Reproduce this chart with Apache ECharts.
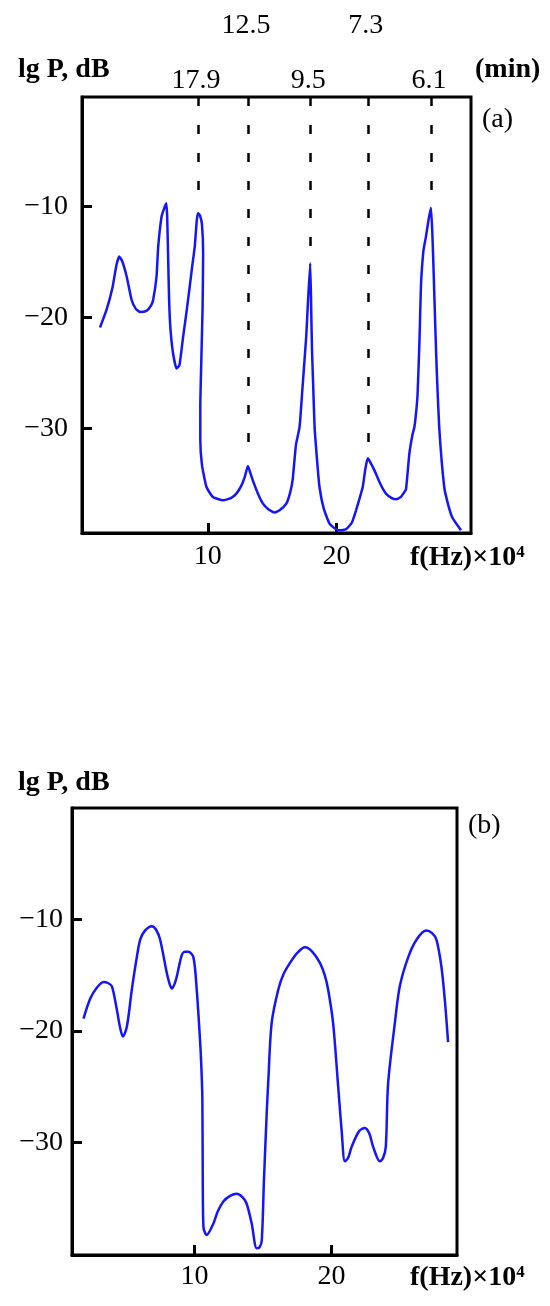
<!DOCTYPE html>
<html>
<head>
<meta charset="utf-8">
<script src="https://cdn.jsdelivr.net/npm/echarts@6/dist/echarts.min.js"></script>
<style>
  html, body { margin: 0; padding: 0; background: #fff; }
  #chart { width: 550px; height: 1306px; }
</style>
</head>
<body>
<div id="chart"></div>
<script>
// ---------- data ----------
const xTicks = [10, 20];
const yTicks = [-10, -20, -30];

// panel (a) spectrum: [f (Hz x 10^4), lg P (dB)]
const spectrumA = [
  [1.63,-20.9],[2.14,-19.3],[2.6,-17.3],[2.9,-15.3],[3.12,-14.5],[3.35,-14.9],[3.7,-16.3],[4.08,-18.4],
  [4.4,-19.2],[4.73,-19.5],[5.24,-19.4],[5.6,-18.9],[5.76,-18.4],[6.02,-16.3],[6.15,-13.6],[6.41,-10.9],
  [6.6,-10.2],[6.78,-9.7],[6.85,-11.0],[6.92,-14.5],[7.0,-18.5],[7.1,-21.0],[7.3,-23.2],[7.57,-24.6],
  [7.8,-24.3],[8.09,-21.7],[8.35,-19.5],[8.6,-17.2],[8.8,-15.3],[8.99,-13.6],[9.15,-11.2],[9.25,-10.6],
  [9.4,-10.8],[9.55,-11.6],[9.64,-14.2],[9.6,-19.0],[9.5,-23.8],[9.42,-28.0],[9.42,-31.0],[9.55,-33.3],
  [9.9,-35.3],[10.4,-36.2],[11.19,-36.5],[11.8,-36.3],[12.22,-35.9],[12.6,-35.2],[12.87,-34.4],[13.12,-33.4],
  [13.3,-34.0],[13.5,-34.7],[13.9,-35.9],[14.29,-36.8],[14.7,-37.3],[15.19,-37.6],[15.58,-37.4],[16.1,-36.8],
  [16.4,-35.8],[16.6,-34.6],[16.85,-31.5],[17.13,-29.9],[17.35,-26.5],[17.52,-23.8],[17.65,-21.7],[17.78,-18.7],
  [17.96,-15.1],[18.04,-19.5],[18.1,-23.0],[18.2,-26.5],[18.3,-29.9],[18.5,-33.0],[18.68,-35.3],[19.0,-37.2],
  [19.46,-38.6],[20.1,-39.2],[20.75,-39.1],[21.2,-38.5],[21.52,-37.4],[21.8,-36.3],[22.04,-35.3],[22.25,-33.6],
  [22.43,-32.7],[22.6,-33.0],[22.95,-33.8],[23.4,-35.0],[23.85,-35.9],[24.3,-36.3],[24.63,-36.4],[25.0,-36.2],
  [25.19,-35.9],[25.4,-35.5],[25.66,-32.3],[25.9,-30.6],[26.05,-29.9],[26.2,-28.4],[26.3,-26.9],[26.45,-22.0],
  [26.56,-17.2],[26.75,-14.0],[26.95,-12.7],[27.15,-11.2],[27.34,-10.1],[27.45,-12.5],[27.55,-16.0],[27.68,-21.0],
  [27.78,-24.5],[27.98,-29.9],[28.37,-35.3],[28.7,-37.0],[29.02,-38.1],[29.67,-39.2]
];

// panel (a) marked peaks: frequency, lower end of dashed line, period label (min)
const peakFreqA = [9.25, 13.12, 17.96, 22.43, 27.34];
const peakEndA = [-9.3, -32.8, -13.6, -32.3, -8.8];
const periodLabelsA = ['17.9', '12.5', '9.5', '7.3', '6.1'];

// panel (b) spectrum
const spectrumB = [
  [1.92,-18.9],[2.41,-17.1],[2.9,-16.1],[3.38,-15.6],[3.7,-15.7],[3.99,-16.0],[4.35,-18.1],[4.6,-19.8],
  [4.79,-20.5],[5.08,-19.6],[5.44,-16.3],[5.75,-13.8],[6.05,-11.8],[6.4,-11.0],[6.9,-10.6],[7.2,-10.9],
  [7.5,-11.8],[7.99,-14.8],[8.2,-15.8],[8.36,-16.2],[8.55,-15.8],[8.72,-15.1],[9.08,-13.2],[9.3,-12.9],
  [9.56,-12.9],[9.93,-13.4],[10.17,-16.3],[10.41,-20.8],[10.5,-23.0],[10.58,-26.0],[10.61,-33.4],[10.66,-37.6],
  [10.9,-38.3],[11.38,-37.3],[11.7,-36.2],[12.11,-35.3],[12.6,-34.8],[13.09,-34.6],[13.5,-34.9],[13.81,-35.5],
  [14.18,-37.3],[14.54,-39.5],[14.75,-39.4],[14.91,-38.8],[15.07,-33.4],[15.27,-27.4],[15.39,-24.4],[15.63,-19.3],
  [16.11,-16.3],[16.5,-14.9],[16.97,-13.9],[17.5,-13.0],[18.06,-12.5],[18.6,-12.9],[19.15,-13.9],[19.5,-15.0],
  [19.75,-16.3],[20.11,-19.3],[20.48,-25.0],[20.73,-28.9],[20.97,-31.7],[21.2,-31.4],[21.46,-30.4],[22.0,-29.0],
  [22.42,-28.7],[22.75,-29.2],[23.03,-30.4],[23.52,-31.7],[23.75,-31.4],[23.95,-30.4],[24.12,-24.7],[24.61,-19.3],
  [24.97,-16.0],[25.58,-13.4],[26.2,-11.8],[26.91,-11.0],[27.3,-11.2],[27.64,-11.8],[28.0,-14.2],[28.25,-17.2],
  [28.49,-21.0]
];

// axis ranges
const xRangeA = [0.23, 30.45], yRangeA = [-39.45, -0.1];
const xRangeB = [1.08, 29.14], yRangeB = [-40.1, 0];

// ---------- chart ----------
const FONT = '"Liberation Serif", "Times New Roman", serif';
const FS = 28;
const BLUE = '#1414ff';
const minus = v => String(v).replace('-', '\u2212');

function xAxisCfg(gi, range, margin) {
  return {
    gridIndex: gi, type: 'value', position: 'bottom', min: range[0], max: range[1],
    splitLine: { show: false },
    axisLine: { show: true, onZero: false, lineStyle: { color: '#000', width: 3 } },
    axisTick: { show: true, inside: true, length: 10, customValues: xTicks, lineStyle: { color: '#000', width: 3 } },
    axisLabel: { customValues: xTicks, margin: margin, fontSize: FS, color: '#000', fontFamily: FONT }
  };
}
function yAxisCfg(gi, range, margin) {
  return {
    gridIndex: gi, type: 'value', position: 'left', min: range[0], max: range[1],
    splitLine: { show: false },
    axisLine: { show: true, onZero: false, lineStyle: { color: '#000', width: 3 } },
    axisTick: { show: true, inside: true, length: 10, customValues: yTicks, lineStyle: { color: '#000', width: 3 } },
    axisLabel: { customValues: yTicks, margin: margin, fontSize: FS, color: '#000', fontFamily: FONT, formatter: minus }
  };
}

const chart = echarts.init(document.getElementById('chart'), null, { renderer: 'canvas' });

const dashLines = peakFreqA.map((f, i) => [
  { coord: [f, yRangeA[1]] }, { coord: [f, peakEndA[i]] }
]);

const periodPoints = peakFreqA.map((f, i) => ({
  value: [f, yRangeA[1]],
  label: { offset: [-2, i % 2 === 0 ? -16 : -71] },
  name: periodLabelsA[i]
}));

const textStyle = (bold) => ({ fill: '#000', font: (bold ? 'bold ' : '') + FS + 'px ' + FONT, verticalAlign: 'middle' });

chart.setOption({
  animation: false,
  backgroundColor: '#fff',
  grid: [
    { left: 82, top: 97, width: 389, height: 436, show: true, borderColor: '#000', borderWidth: 3 },
    { left: 72, top: 808, width: 385, height: 447, show: true, borderColor: '#000', borderWidth: 3 }
  ],
  xAxis: [xAxisCfg(0, xRangeA, 10), xAxisCfg(1, xRangeB, 8)],
  yAxis: [yAxisCfg(0, yRangeA, 14), yAxisCfg(1, yRangeB, 9)],
  series: [
    {
      type: 'line', xAxisIndex: 0, yAxisIndex: 0, data: spectrumA, showSymbol: false, smooth: 0.15,
      lineStyle: { color: BLUE, width: 2.5 },
      markLine: {
        silent: true, symbol: ['none', 'none'], label: { show: false },
        lineStyle: { color: '#000', width: 2.5, type: [9, 19] },
        data: dashLines
      }
    },
    {
      type: 'scatter', xAxisIndex: 0, yAxisIndex: 0, data: periodPoints, symbolSize: 1,
      itemStyle: { color: 'rgba(0,0,0,0)', opacity: 1 }, silent: true,
      label: { show: true, position: 'inside', formatter: p => p.name, fontSize: FS, color: '#000',
               fontFamily: FONT, textBorderWidth: 0 }
    },
    {
      type: 'line', xAxisIndex: 1, yAxisIndex: 1, data: spectrumB, showSymbol: false, smooth: 0.3,
      lineStyle: { color: BLUE, width: 2.5 }
    }
  ],
  graphic: [
    { type: 'text', left: 18, top: 56, style: Object.assign(textStyle(true), { text: 'lg P, dB' }) },
    { type: 'text', left: 475, top: 56, style: Object.assign(textStyle(true), { text: '(min)' }) },
    { type: 'text', left: 482, top: 106, style: Object.assign(textStyle(false), { text: '(a)' }) },
    { type: 'text', left: 410, top: 544, style: Object.assign(textStyle(true), { text: 'f(Hz)×10⁴' }) },
    { type: 'text', left: 18, top: 769, style: Object.assign(textStyle(true), { text: 'lg P, dB' }) },
    { type: 'text', left: 468, top: 812, style: Object.assign(textStyle(false), { text: '(b)' }) },
    { type: 'text', left: 410, top: 1264, style: Object.assign(textStyle(true), { text: 'f(Hz)×10⁴' }) }
  ]
});
</script>
</body>
</html>
